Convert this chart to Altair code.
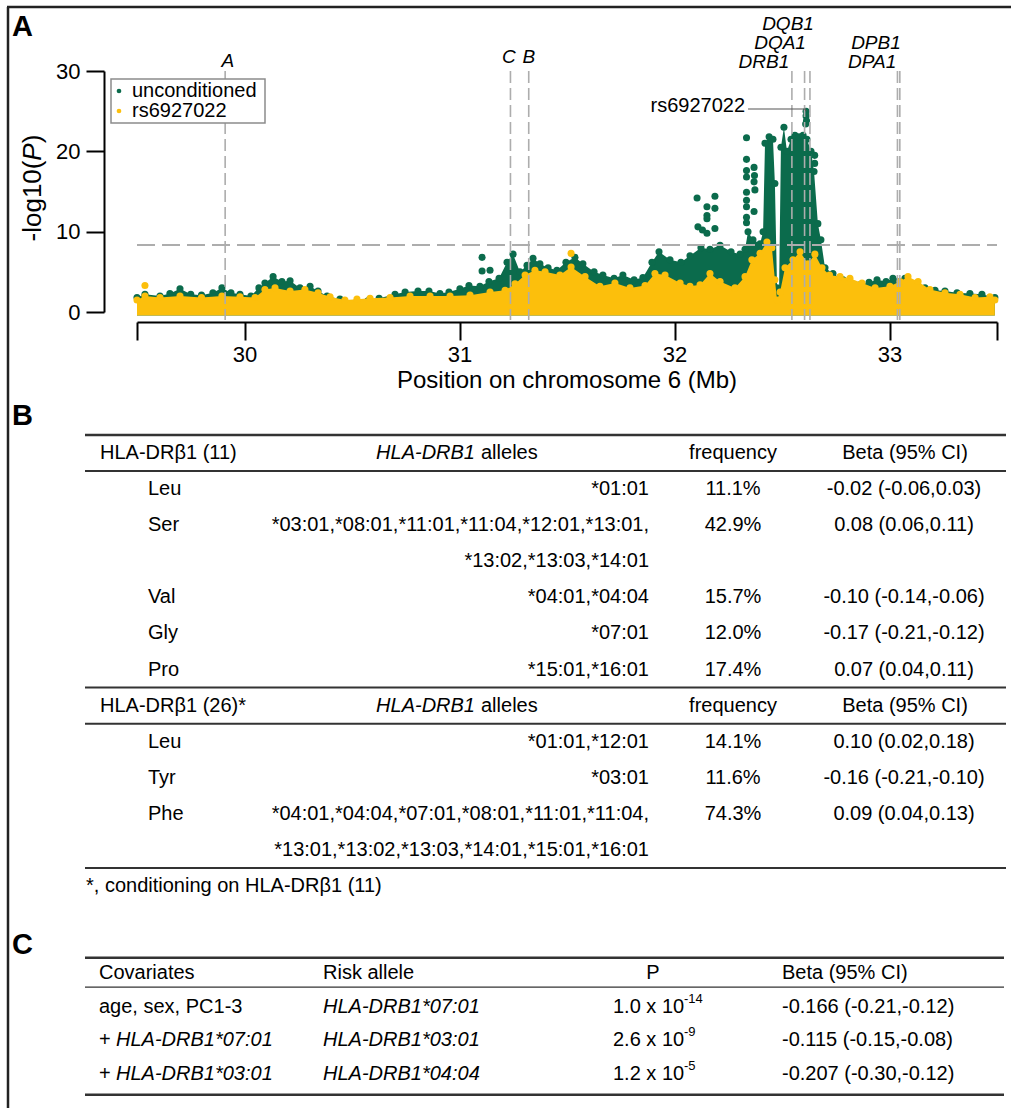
import altair as alt
import pandas as pd

FONT = "Liberation Sans"
GREEN = "#0b6b4c"
YELLOW = "#fcbf0c"
DASH = "#adadad"
RULE = "#333333"

# ---------------- Panel A data ----------------
green_pos = [29.50, 29.537, 29.607, 29.653, 29.70, 29.75, 29.80, 29.853, 29.895, 29.937,
             29.979, 30.03, 30.067, 30.095, 30.133, 30.174, 30.212, 30.258, 30.305, 30.342,
             30.384, 30.444, 30.523, 30.574, 30.626, 30.70, 30.747, 30.807, 30.858, 30.909,
             30.951, 31.002, 31.044, 31.095, 31.137, 31.184, 31.221, 31.249, 31.281, 31.314,
             31.342, 31.374, 31.412, 31.453, 31.495, 31.537, 31.574, 31.626, 31.667, 31.719,
             31.76, 31.812, 31.853, 31.895, 31.928, 31.979, 32.03, 32.072, 32.123, 32.165,
             32.212, 32.263, 32.305, 32.328, 32.342, 32.365, 32.398, 32.412, 32.421, 32.44,
             32.458, 32.467, 32.477, 32.486, 32.495, 32.509, 32.523, 32.542, 32.56, 32.579,
             32.598, 32.616, 32.635, 32.649, 32.667, 32.681, 32.70, 32.737, 32.784, 32.821,
             32.863, 32.905, 32.942, 32.984, 33.016, 33.072, 33.119, 33.165, 33.212, 33.258,
             33.314, 33.374, 33.43, 33.49]
green_logp = [1.8, 2.2, 2.0, 2.3, 2.9, 2.2, 2.1, 2.4, 3.0, 2.4,
              2.2, 2.0, 3.0, 3.6, 4.4, 3.8, 3.9, 3.0, 3.2, 2.6,
              2.0, 1.6, 1.3, 1.4, 1.7, 2.2, 2.5, 2.6, 2.6, 2.3,
              2.5, 2.9, 3.3, 3.2, 3.8, 4.2, 6.2, 7.2, 5.0, 5.8,
              6.7, 6.0, 5.5, 5.2, 6.2, 6.8, 6.0, 5.0, 4.6, 4.2,
              4.6, 4.0, 4.3, 6.2, 7.5, 6.5, 6.2, 7.0, 8.0, 7.8,
              8.3, 7.5, 7.2, 7.8, 10.0, 9.0, 8.5, 10.0, 21.0, 21.8,
              21.5, 16.0, 3.0, 2.0, 20.5, 23.0, 20.0, 21.5, 22.0, 21.8,
              22.0, 21.5, 20.0, 17.5, 11.0, 9.0, 5.5, 4.8, 4.0, 3.6,
              3.4, 3.7, 4.0, 3.8, 4.2, 4.2, 3.5, 3.0, 2.7, 2.6,
              2.4, 2.3, 2.2, 1.8]

yellow_pos = [29.50, 29.537, 29.607, 29.70, 29.80, 29.895, 29.979, 30.049, 30.095, 30.142,
              30.212, 30.281, 30.342, 30.398, 30.467, 30.523, 30.584, 30.677, 30.77, 30.863,
              30.956, 31.049, 31.142, 31.212, 31.258, 31.305, 31.351, 31.398, 31.467, 31.519,
              31.584, 31.653, 31.723, 31.793, 31.863, 31.909, 31.956, 32.026, 32.072, 32.119,
              32.165, 32.212, 32.281, 32.328, 32.36, 32.398, 32.43, 32.453, 32.467, 32.477,
              32.491, 32.514, 32.551, 32.584, 32.621, 32.653, 32.686, 32.721, 32.77, 32.816,
              32.872, 32.933, 33.002, 33.049, 33.086, 33.133, 33.188, 33.258, 33.328, 33.398,
              33.467, 33.49]
yellow_logp = [1.5, 2.0, 1.8, 2.0, 1.8, 2.0, 1.9, 1.8, 2.8, 3.0,
               2.6, 2.8, 2.4, 1.9, 1.5, 1.6, 1.7, 1.8, 2.0, 2.0,
               2.0, 2.1, 2.5, 2.7, 3.5, 4.6, 5.2, 5.0, 4.6, 5.6,
               4.4, 3.2, 3.6, 3.0, 3.3, 4.8, 4.6, 3.6, 3.2, 3.4,
               4.8, 3.8, 3.0, 4.4, 6.5, 7.3, 8.7, 8.0, 4.0, 1.5,
               2.5, 5.5, 6.5, 7.5, 6.0, 7.2, 5.5, 4.6, 4.4, 4.2,
               3.6, 3.0, 3.2, 3.8, 4.4, 3.8, 2.8, 2.4, 2.2, 1.8,
               1.9, 1.5]

green_extra_pos = [31.105, 31.105, 31.142,
                   32.105, 32.188, 32.151, 32.188, 32.151, 32.151, 32.109, 32.13, 32.151, 32.188,
                   32.335, 32.335, 32.335, 32.335, 32.335, 32.335, 32.335, 32.335, 32.335,
                   32.37, 32.372, 32.37, 32.374, 32.37,
                   32.612, 32.612, 32.614, 32.61,
                   32.652, 32.652]
green_extra_logp = [6.8, 5.1, 5.2,
                    14.2, 14.4, 13.1, 12.9, 12.0, 11.6, 10.6, 10.2, 9.8, 10.4,
                    21.7, 19.0, 17.6, 16.8, 14.9, 13.9, 13.1, 11.8, 11.1,
                    18.0, 17.0, 16.2, 15.2, 12.5,
                    25.0, 24.4, 23.8, 23.4,
                    19.5, 18.5]
yellow_extra_pos = [29.537, 31.519]
yellow_extra_logp = [3.3, 7.3]

gene_names = ["A", "C", "B", "DRB1", "DQA1", "DQB1", "DPA1", "DPB1"]
gene_pos = [29.910, 31.237, 31.322, 32.546, 32.605, 32.630, 33.037, 33.048]
gene_label_pos = [29.923, 31.23, 31.323, 32.416, 32.491, 32.528, 32.919, 32.937]
gene_label_logp = [31.25, 31.74, 31.74, 31.12, 33.49, 35.85, 31.12, 33.49]

threshold = 8.35
lead_snp = "rs6927022"
lead_pos = 32.612
lead_logp = 25.0
x_tick_values = [29.5, 30, 31, 32, 33, 33.5]
y_tick_values = [0, 10, 20, 30]
series_names = ["unconditioned", "rs6927022"]

# ---------------- Panel B / C table text ----------------
b_rows_hdr = [0, 7]
b_hdr_col1 = ["HLA-DRβ1 (11)", "HLA-DRβ1 (26)*"]
b_aa_rows = [1, 2, 4, 5, 6, 8, 9, 10]
b_aa = ["Leu", "Ser", "Val", "Gly", "Pro", "Leu", "Tyr", "Phe"]
b_allele_rows = [1, 2, 3, 4, 5, 6, 8, 9, 10, 11]
b_alleles = ["*01:01", "*03:01,*08:01,*11:01,*11:04,*12:01,*13:01,", "*13:02,*13:03,*14:01",
             "*04:01,*04:04", "*07:01", "*15:01,*16:01", "*01:01,*12:01", "*03:01",
             "*04:01,*04:04,*07:01,*08:01,*11:01,*11:04,",
             "*13:01,*13:02,*13:03,*14:01,*15:01,*16:01"]
b_freq = ["11.1%", "42.9%", "15.7%", "12.0%", "17.4%", "14.1%", "11.6%", "74.3%"]
b_beta = ["-0.02 (-0.06,0.03)", "0.08 (0.06,0.11)", "-0.10 (-0.14,-0.06)",
          "-0.17 (-0.21,-0.12)", "0.07 (0.04,0.11)", "0.10 (0.02,0.18)",
          "-0.16 (-0.21,-0.10)", "0.09 (0.04,0.13)"]
b_footnote = "*, conditioning on HLA-DRβ1 (11)"
b_rules = [-0.5, 0.5, 6.5, 7.5, 11.5]
b_rule_widths = [2.5, 2, 2, 2, 2]

c_rows = [1, 2, 3]
c_cov_plain = ["age, sex, PC1-3", "+", "+"]
c_cov_italic_rows = [2, 3]
c_cov_italic = ["HLA-DRB1*07:01", "HLA-DRB1*03:01"]
c_risk = ["HLA-DRB1*07:01", "HLA-DRB1*03:01", "HLA-DRB1*04:04"]
c_p_base = ["1.0 x 10", "2.6 x 10", "1.2 x 10"]
c_p_exp = ["-14", "-9", "-5"]
c_beta = ["-0.166 (-0.21,-0.12)", "-0.115 (-0.15,-0.08)", "-0.207 (-0.30,-0.12)"]
c_rules = [-0.45, 0.42, 3.62]
c_rule_widths = [2.5, 1.2, 2.5]

# ---------------- layout (plot area origin = abs (137, 71)) ----------------
W, H = 860, 241
OX, OY = 137, 71


def rx(x):
    return x - OX


def ry(y):
    return y - OY


xs = alt.Scale(domain=[29.5, 33.5], nice=False, zero=False)
ys = alt.Scale(domain=[0, 30], nice=False, zero=False)

x_axis = alt.Axis(values=x_tick_values, format=".0f",
                  labelExpr="datum.value % 1 == 0 ? datum.label : ''",
                  offset=10, domainColor="black", domainWidth=2, tickColor="black",
                  tickWidth=2, tickSize=18, labelFont=FONT, labelFontSize=22,
                  labelColor="black", labelPadding=4, title=None, grid=False,
                  labelFlush=False, labelOverlap=False)
y_axis = alt.Axis(values=y_tick_values, format="d", offset=33, domainColor="black",
                  domainWidth=2, tickColor="black", tickWidth=2, tickSize=18,
                  labelFont=FONT, labelFontSize=22, labelColor="black", labelPadding=6,
                  title=None, grid=False, labelFlush=False, labelOverlap=False)

X = lambda f: alt.X(f, scale=xs, axis=x_axis)
Y = lambda f: alt.Y(f, scale=ys, axis=y_axis)

df_g = pd.DataFrame({"pos": green_pos, "logp": green_logp})
df_y = pd.DataFrame({"pos": yellow_pos, "logp": yellow_logp})
df_ge = pd.DataFrame({"pos": green_extra_pos, "logp": green_extra_logp})
df_ye = pd.DataFrame({"pos": yellow_extra_pos, "logp": yellow_extra_logp})


def area(df, color):
    return alt.Chart(df).mark_area(color=color, interpolate="linear").encode(
        x=X("pos:Q"), y=Y("logp:Q"), y2=alt.datum(-0.45))


def dots(df, color):
    return alt.Chart(df).mark_circle(size=50, color=color, opacity=1).encode(
        x=X("pos:Q"), y=Y("logp:Q"))


thr = alt.Chart(pd.DataFrame({"x1": [29.5], "x2": [33.5], "y": [threshold]})).mark_rule(
    color=DASH, strokeWidth=2, strokeDash=[18, 7]).encode(
    x=X("x1:Q"), x2="x2:Q", y=Y("y:Q"))

genes_df = pd.DataFrame({"gene": gene_names, "pos": gene_pos,
                         "top": [30.0] * len(gene_names), "bot": [-1.0] * len(gene_names)})
gene_lines = alt.Chart(genes_df).mark_rule(color=DASH, strokeWidth=1.6,
                                           strokeDash=[12, 5]).encode(
    x=X("pos:Q"), y=Y("top:Q"), y2="bot:Q")

gene_lab_df = pd.DataFrame({"gene": gene_names, "pos": gene_label_pos,
                            "logp": gene_label_logp})
gene_labels = alt.Chart(gene_lab_df).mark_text(
    font=FONT, fontSize=19, fontStyle="italic", align="center", baseline="middle",
    color="black").encode(x=X("pos:Q"), y=Y("logp:Q"), text="gene:N")

lead_line = alt.Chart(pd.DataFrame({"pos": [32.342, 32.607, lead_pos],
                                    "logp": [25.27, 25.27, lead_logp]})).mark_line(
    color="#555555", strokeWidth=1.2).encode(x=X("pos:Q"), y=Y("logp:Q"))
lead_text = alt.Chart(pd.DataFrame({"pos": [32.328], "logp": [25.64],
                                    "t": [lead_snp]})).mark_text(
    font=FONT, fontSize=20, align="right", baseline="middle", color="black").encode(
    x=X("pos:Q"), y=Y("logp:Q"), text="t:N")

manhattan = [area(df_g, GREEN), dots(df_g, GREEN), dots(df_ge, GREEN),
             area(df_y, YELLOW), dots(df_y, YELLOW), dots(df_ye, YELLOW),
             thr, gene_lines, lead_line, lead_text, gene_labels]


# ---------------- pixel-placed decorations (layout, scale=None) ----------------
def ptext(t, x, y, size=20, align="left", style="normal", weight="normal", angle=0):
    return alt.Chart(pd.DataFrame({"t": [t]})).mark_text(
        font=FONT, fontSize=size, fontStyle=style, fontWeight=weight, align=align,
        baseline="middle", color="black", angle=angle).encode(
        x=alt.value(x), y=alt.value(y), text="t:N")


one = pd.DataFrame({"a": [0]})
legend_box = alt.Chart(one).mark_rect(fill="white", stroke="#8c8c8c", strokeWidth=1.5).encode(
    x=alt.value(rx(111)), x2=alt.value(rx(265)), y=alt.value(ry(79)), y2=alt.value(ry(123)))
leg_df = pd.DataFrame({"s": series_names, "py": [ry(91), ry(111)],
                       "c": [GREEN, YELLOW]})
legend_dots = alt.Chart(leg_df).mark_circle(size=22, opacity=1).encode(
    x=alt.value(rx(119)), y=alt.Y("py:Q", scale=None),
    color=alt.Color("c:N", scale=None, legend=None))
legend_text = alt.Chart(leg_df).mark_text(
    font=FONT, fontSize=20, align="left", baseline="middle", color="black").encode(
    x=alt.value(rx(132)), y=alt.Y("py:Q", scale=None), text="s:N")

frame_left = alt.Chart(one).mark_rule(color="#222222", strokeWidth=2.5).encode(
    x=alt.value(rx(8)), y=alt.value(ry(7)), y2=alt.value(ry(1108)))
frame_top = alt.Chart(one).mark_rule(color="#222222", strokeWidth=2.5).encode(
    x=alt.value(rx(7)), x2=alt.value(rx(1011)), y=alt.value(ry(7)))

ytitle = [
    ptext("-log10(", rx(33), ry(201), size=26, align="center", angle=270),
    ptext("P", rx(33), ry(152), size=26, align="center", angle=270, style="italic"),
    ptext(")", rx(33), ry(139), size=26, align="center", angle=270)]
xtitle = ptext("Position on chromosome 6 (Mb)", rx(567), ry(381), size=24, align="center")

panel_letters = [
    ptext("A", rx(12), ry(27), size=29, weight="bold"),
    ptext("B", rx(12), ry(416), size=29, weight="bold"),
    ptext("C", rx(12), ry(945), size=29, weight="bold")]

# ---------------- tables: rows placed at fixed row pitch ----------------
B_Y0, B_PITCH = 453, 433 / 12.0
C_Y0, C_PITCH = 973, 101 / 3.0


def tcol(rows, texts, x, y0, pitch, align="left", style="normal", size=20, dy=0):
    df = pd.DataFrame({"row": rows, "t": texts})
    df["py"] = [ry(y0 + r * pitch) for r in rows]
    return alt.Chart(df).mark_text(
        font=FONT, fontSize=size, fontStyle=style, align=align, baseline="middle",
        color="black", dy=dy).encode(
        x=alt.value(x), y=alt.Y("py:Q", scale=None), text="t:N")


def trules(rows, widths, y0, pitch, x1, x2):
    df = pd.DataFrame({"row": rows, "w": widths})
    df["py"] = [ry(y0 + r * pitch) for r in rows]
    return alt.Chart(df).mark_rule(color=RULE).encode(
        x=alt.value(x1), x2=alt.value(x2),
        y=alt.Y("py:Q", scale=None),
        strokeWidth=alt.StrokeWidth("w:Q", scale=None))


bp = (B_Y0, B_PITCH)
tableB = [
    tcol(b_rows_hdr, b_hdr_col1, rx(100), *bp),
    tcol(b_rows_hdr, ["HLA-DRB1"] * 2, rx(475), *bp, align="right", style="italic"),
    tcol(b_rows_hdr, ["alleles"] * 2, rx(481), *bp),
    tcol(b_rows_hdr, ["frequency"] * 2, rx(733), *bp, align="center"),
    tcol(b_rows_hdr, ["Beta (95% CI)"] * 2, rx(905), *bp, align="center"),
    tcol(b_aa_rows, b_aa, rx(148), *bp),
    tcol(b_allele_rows, b_alleles, rx(649), *bp, align="right"),
    tcol(b_aa_rows, b_freq, rx(733), *bp, align="center"),
    tcol(b_aa_rows, b_beta, rx(904), *bp, align="center"),
    tcol([12], [b_footnote], rx(86), *bp),
    trules(b_rules, b_rule_widths, *bp, rx(85), rx(1006)),
]

cp = (C_Y0, C_PITCH)
tableC = [
    tcol([0], ["Covariates"], rx(99), *cp),
    tcol([0], ["Risk allele"], rx(323), *cp),
    tcol([0], ["P"], rx(653), *cp, align="center"),
    tcol([0], ["Beta (95% CI)"], rx(782), *cp),
    tcol(c_rows, c_cov_plain, rx(99), *cp),
    tcol(c_cov_italic_rows, c_cov_italic, rx(116), *cp, style="italic"),
    tcol(c_rows, c_risk, rx(323), *cp, style="italic"),
    tcol(c_rows, c_p_base, rx(613), *cp),
    tcol(c_rows, c_p_exp, rx(684), *cp, size=13, dy=-8),
    tcol(c_rows, c_beta, rx(782), *cp),
    trules(c_rules, c_rule_widths, *cp, rx(85), rx(1004)),
]

layers = (manhattan + [legend_box, legend_dots, legend_text] + tableB + tableC
          + [frame_left, frame_top] + ytitle + [xtitle] + panel_letters)

chart = alt.layer(*layers).properties(
    width=W, height=H,
    padding={"left": OX, "top": OY, "right": 1011 - OX - W, "bottom": 1108 - OY - H},
    autosize=alt.AutoSizeParams(type="none"),
).configure_view(strokeWidth=0).configure_axis(grid=False)

chart.save("out.html", embed_options={"renderer": "svg", "actions": False})
